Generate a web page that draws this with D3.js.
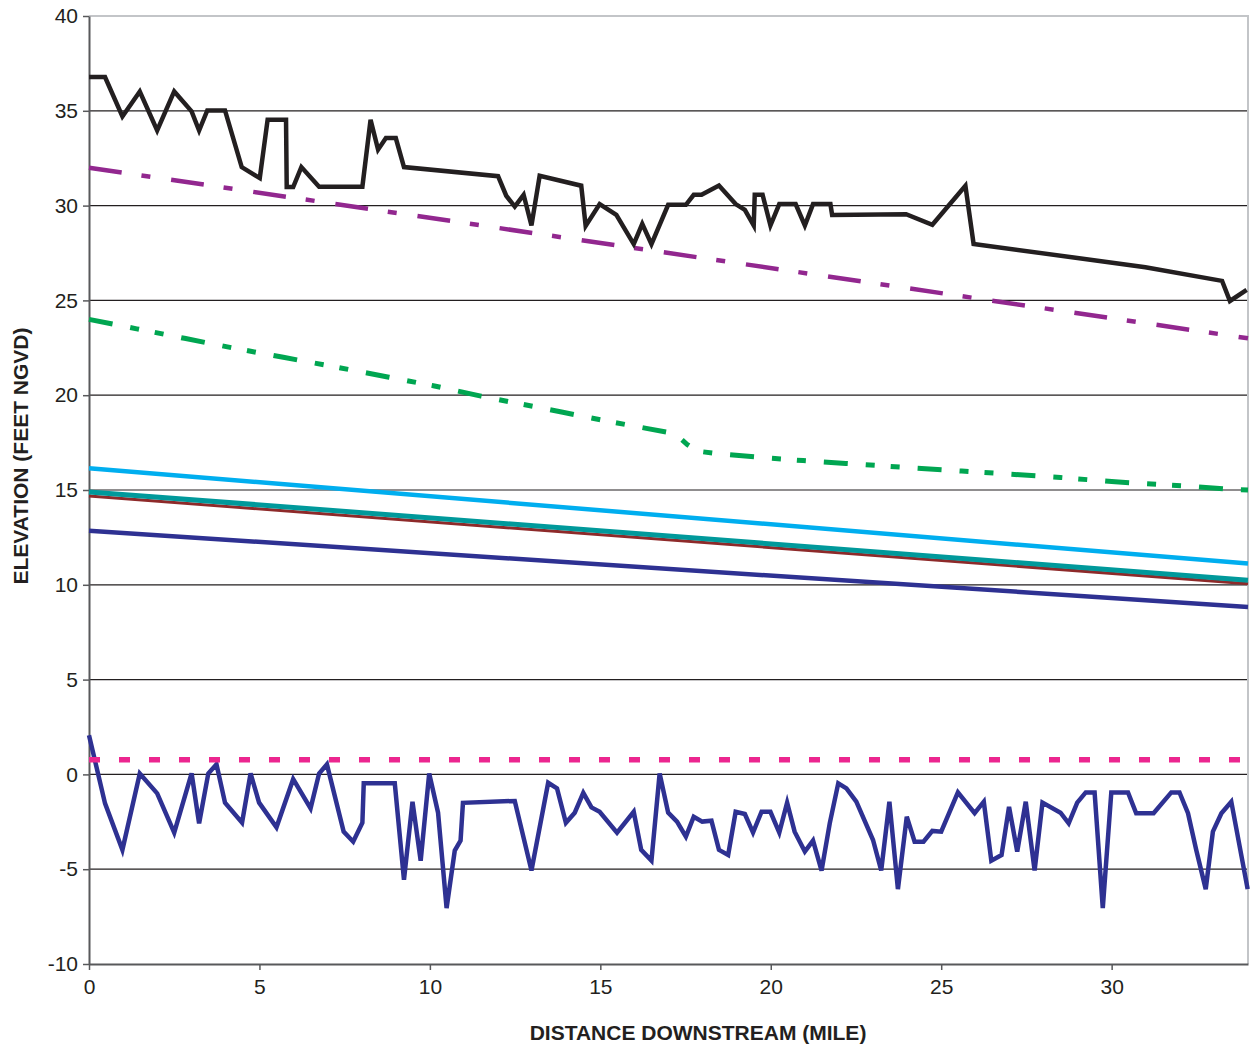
<!DOCTYPE html>
<html>
<head>
<meta charset="utf-8">
<script src="https://cdn.jsdelivr.net/npm/d3@7"></script>
<style>
  body { margin: 0; background: #fff; }
  text { font-family: "Liberation Sans", Arial, sans-serif; fill: #231f20; }
</style>
</head>
<body>
<div id="chart"></div>
<script>
// axis ticks
var xTicks = [0, 5, 10, 15, 20, 25, 30];
var yTicks = [-10, -5, 0, 5, 10, 15, 20, 25, 30, 35, 40];

// black profile (top line)
var bankMile = [0, 0.47, 0.98, 1.49, 2.0, 2.5, 3.01, 3.23, 3.47, 3.99, 4.48, 5.01, 5.24, 5.78, 5.8, 5.99,
  6.23, 6.75, 8.02, 8.26, 8.48, 8.71, 9.0, 9.24, 12.0, 12.24, 12.49, 12.75, 12.98, 13.22, 14.44, 14.57,
  14.98, 15.47, 15.98, 16.23, 16.5, 16.99, 17.51, 17.74, 17.97, 18.48, 18.97, 19.24, 19.5, 19.53, 19.76,
  19.99, 20.25, 20.73, 21.0, 21.24, 21.75, 21.8, 23.97, 24.74, 25.71, 25.95, 30.99, 33.24, 33.47, 33.96];
var bankElev = [36.78, 36.78, 34.7, 36.02, 33.96, 36.02, 34.97, 33.96, 35.02, 35.02, 32.03, 31.45, 34.53, 34.53, 30.98, 30.98,
  32.03, 31.0, 31.0, 34.53, 32.95, 33.56, 33.56, 32.03, 31.55, 30.52, 29.95, 30.57, 28.95, 31.57, 31.05, 28.93,
  30.08, 29.51, 27.97, 29.04, 27.97, 30.04, 30.04, 30.57, 30.57, 31.06, 30.08, 29.78, 28.95, 30.57, 30.57,
  28.95, 30.08, 30.08, 28.95, 30.08, 30.08, 29.51, 29.55, 28.99, 31.05, 27.98, 26.75, 26.03, 24.97, 25.55];

// navy profile (bottom line)
var bedMile = [0, 0.47, 0.98, 1.49, 2.0, 2.5, 3.01, 3.23, 3.5, 3.74, 3.99, 4.49, 4.74, 4.99, 5.5, 5.99,
  6.5, 6.75, 6.98, 7.47, 7.75, 8.02, 8.06, 8.97, 9.24, 9.49, 9.73, 9.98, 10.24, 10.49, 10.73, 10.9,
  10.97, 12.49, 12.98, 13.47, 13.73, 13.99, 14.25, 14.5, 14.74, 14.98, 15.49, 15.98, 16.2, 16.5, 16.74,
  16.99, 17.25, 17.51, 17.74, 17.99, 18.26, 18.48, 18.75, 18.97, 19.24, 19.48, 19.73, 19.99, 20.25, 20.48,
  20.7, 21.0, 21.24, 21.49, 21.73, 21.98, 22.22, 22.51, 23.0, 23.24, 23.48, 23.73, 23.99, 24.22, 24.48,
  24.74, 25.0, 25.49, 25.98, 26.25, 26.47, 26.77, 26.99, 27.23, 27.48, 27.74, 27.97, 28.5, 28.74, 28.99,
  29.24, 29.5, 29.74, 29.99, 30.48, 30.72, 31.23, 31.75, 31.99, 32.24, 32.48, 32.76, 32.97, 33.22, 33.51, 33.99];
var bedElev = [2.07, -1.53, -3.98, 0.05, -1.0, -3.07, 0.05, -2.58, 0.05, 0.53, -1.49, -2.55, 0.05, -1.49, -2.79, -0.25,
  -1.79, 0.05, 0.53, -3.02, -3.55, -2.55, -0.47, -0.47, -5.56, -1.44, -4.55, 0.05, -2.02, -7.05, -4.02, -3.49,
  -1.5, -1.4, -5.07, -0.44, -0.74, -2.55, -2.02, -0.97, -1.74, -1.97, -3.07, -1.97, -3.98, -4.55, 0.05,
  -2.02, -2.49, -3.28, -2.23, -2.49, -2.44, -3.98, -4.25, -1.97, -2.09, -3.07, -1.97, -1.97, -3.07, -1.49,
  -3.02, -4.07, -3.49, -5.07, -2.58, -0.47, -0.74, -1.44, -3.46, -5.07, -1.44, -6.05, -2.23, -3.55, -3.55,
  -2.98, -3.02, -0.95, -2.05, -1.44, -4.55, -4.25, -1.71, -4.07, -1.44, -5.07, -1.49, -2.02, -2.58, -1.49,
  -0.95, -0.95, -7.05, -0.95, -0.95, -2.05, -2.05, -0.95, -0.95, -2.05, -3.98, -6.05, -3.02, -2.05, -1.44, -6.05];

// green dash-dot-dot profile
var greenMile = [0, 1.4, 2.8, 4.2, 5.7, 7.2, 8.8, 10.1, 11.5, 13.9, 15.3, 16.35, 16.95, 17.3, 17.55, 17.85,
  18.5, 19.7, 20.95, 22.2, 25.6, 28.5, 30.1, 32.3, 33.5, 34];
var greenElev = [24.0, 23.5, 23.0, 22.5, 22.0, 21.5, 20.95, 20.5, 19.95, 19.1, 18.6, 18.25, 18.05, 17.8, 17.4, 17.05,
  16.9, 16.72, 16.55, 16.4, 16.0, 15.66, 15.43, 15.2, 15.03, 15.0];

// straight profiles: [mile 0, mile 34]
var endMiles = [0, 34];
var purpleElev = [32.0, 23.0];
var lightBlueElev = [16.15, 11.12];
var brownElev = [14.68, 10.06];
var tealElev = [14.9, 10.24];
var navyElev = [12.85, 8.83];
var pinkElev = [0.77, 0.77];

var width = 1256, height = 1047;
var plotLeft = 89, plotRight = 1248, plotTop = 16, plotBottom = 964;

var svg = d3.select("#chart").append("svg")
    .attr("width", width)
    .attr("height", height);

var x = d3.scaleLinear().domain([0, 34]).range([plotLeft, plotRight]);
var y = d3.scaleLinear().domain([-10, 40]).range([plotBottom, plotTop]);

// gridlines
svg.append("g")
  .selectAll("line")
  .data(yTicks.filter(function(d) { return d > -10 && d < 40; }))
  .enter().append("line")
    .attr("x1", plotLeft).attr("x2", plotRight)
    .attr("y1", function(d) { return y(d); })
    .attr("y2", function(d) { return y(d); })
    .style("stroke", "#231f20")
    .style("stroke-width", 1.2);

// light frame top and right
svg.append("line")
  .attr("x1", plotLeft).attr("x2", plotRight + 1)
  .attr("y1", y(40)).attr("y2", y(40))
  .style("stroke", "#c3c5c8").style("stroke-width", 2);
svg.append("line")
  .attr("x1", plotRight).attr("x2", plotRight)
  .attr("y1", y(40)).attr("y2", plotBottom)
  .style("stroke", "#c3c5c8").style("stroke-width", 2);

// axes (plain hyphen for negatives, as in the original)
var fmt = function(d) { return String(d); };
var xAxis = svg.append("g")
  .attr("transform", "translate(0," + plotBottom + ")")
  .call(d3.axisBottom(x).tickValues(xTicks).tickFormat(fmt).tickSize(6).tickSizeOuter(0).tickPadding(9));
var yAxis = svg.append("g")
  .attr("transform", "translate(" + plotLeft + ",0)")
  .call(d3.axisLeft(y).tickValues(yTicks).tickFormat(fmt).tickSize(6).tickSizeOuter(0).tickPadding(5));

[xAxis, yAxis].forEach(function(a) {
  a.select(".domain").style("stroke", "#58595b").style("stroke-width", 2);
  a.selectAll(".tick line").style("stroke", "#58595b").style("stroke-width", 1.5);
  a.selectAll(".tick text")
    .style("font-size", "21px")
    .style("font-family", "'Liberation Sans', Arial, sans-serif")
    .style("fill", "#231f20");
});

var line = d3.line()
  .x(function(d) { return x(d[0]); })
  .y(function(d) { return y(d[1]); });

function drawSeries(miles, elev, color, w, dash) {
  var pts = miles.map(function(m, i) { return [m, elev[i]]; });
  svg.append("path")
    .datum(pts)
    .attr("d", line)
    .style("fill", "none")
    .style("stroke", color)
    .style("stroke-width", w)
    .style("stroke-linejoin", "miter")
    .style("stroke-dasharray", dash || null);
}

drawSeries(endMiles, navyElev, "#2e3192", 4.5);
drawSeries(endMiles, brownElev, "#8e2a2a", 3);
drawSeries(endMiles, tealElev, "#00999b", 5);
drawSeries(endMiles, lightBlueElev, "#00aeef", 4.5);
drawSeries(greenMile, greenElev, "#00a651", 5, "24,18,9,16,9,18");
drawSeries(endMiles, purpleElev, "#92278f", 4.5, "33,20,9,21");
drawSeries(bankMile, bankElev, "#231f20", 4.5);
drawSeries(bedMile, bedElev, "#2e3192", 4.5);
drawSeries(endMiles, pinkElev, "#ec268f", 5.5, "11,19");

// axis titles
svg.append("text")
  .attr("x", 698)
  .attr("y", 1040)
  .attr("text-anchor", "middle")
  .style("font-size", "21px")
  .style("font-weight", "bold")
  .text("DISTANCE DOWNSTREAM (MILE)");

svg.append("text")
  .attr("transform", "translate(28,456) rotate(-90)")
  .attr("text-anchor", "middle")
  .style("font-size", "21px")
  .style("font-weight", "bold")
  .text("ELEVATION (FEET NGVD)");
</script>
</body>
</html>
